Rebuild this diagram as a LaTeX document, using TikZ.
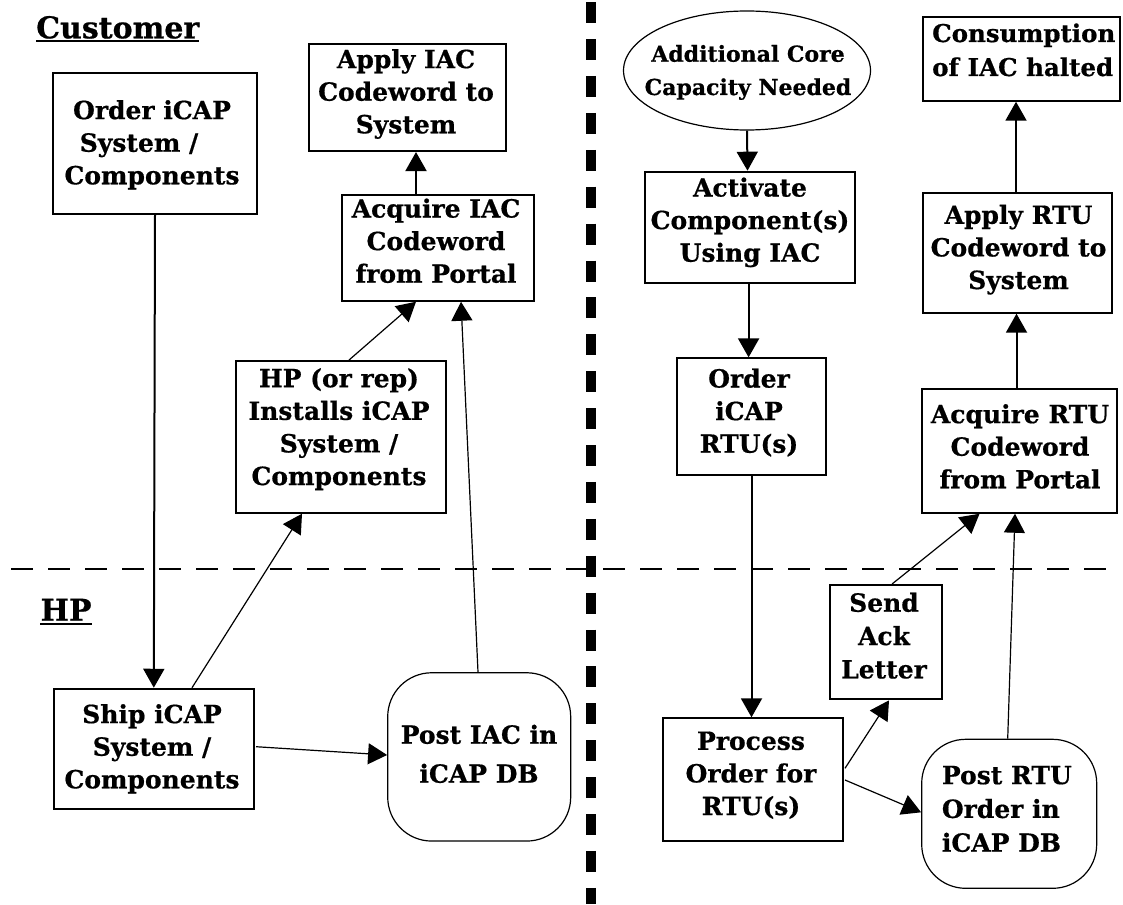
\documentclass[tikz,border=0pt]{standalone}
\usepackage{fontspec}
\setmainfont{DejaVu Serif}[BoldFeatures={FakeBold=0.6}]
\usetikzlibrary{arrows.meta,calc,shapes.geometric}
\newcommand\bxfont{\fontsize{25}{32.6}\selectfont\bfseries}
\newcommand\elfont{\fontsize{22}{33.3}\selectfont\bfseries}
\newcommand\hdfont{\fontsize{30}{36}\selectfont\bfseries}
\tikzset{
  box/.style={draw, line width=2pt, inner sep=0pt},
  rbox/.style={draw, line width=1.2pt, inner sep=0pt, rounded corners=44pt},
  txt/.style={inner sep=0pt, anchor=base, align=center, font=\bxfont},
  ltxt/.style={inner sep=0pt, anchor=base west, align=left, font=\bxfont},
  head/.style={inner sep=0pt, anchor=base west, font=\hdfont},
  arr/.style={line width=2pt, -{Triangle[length=19pt,width=21pt]}},
  tarr/.style={line width=1.2pt, -{Triangle[length=19pt,width=21pt]}},
  uline/.style={line width=2pt},
}
\begin{document}
\begin{tikzpicture}[x=1pt,y=-1pt]
\useasboundingbox (0,0) rectangle (1123,904);
% swimlane separators
\draw[line width=2pt, dash pattern=on 22pt off 15pt] (11,568.7) -- (1118,568.7);
\draw[line width=10.7pt, dash pattern=on 21pt off 15.9pt] (591,2.2) -- (591,904);
% headings
\node[head] (cust) at (36,38.3) {Customer};
\draw[uline] ($(cust.base west)+(0,3)$) -- ($(cust.base east)+(0,3)$);
\node[head] (hp) at (40.4,620.7) {HP};
\draw[uline] ($(hp.base west)+(0,3)$) -- ($(hp.base east)+(0,3)$);
% left side boxes (text nodes anchored at the baseline of their last line)
\node[box, minimum width=204pt, minimum height=141pt] (order) at (155,143.5) {};
\node[txt] (order-t) at (152,184.3) {Order iCAP\\System /\rule{26pt}{0pt}\\Components};
\node[box, minimum width=197pt, minimum height=106.7pt] (applyiac) at (407.5,97.7) {};
\node[txt] (applyiac-t) at (406,133.3) {Apply IAC\\Codeword to\\System};
\node[box, minimum width=192pt, minimum height=105.7pt] (acqiac) at (438,247.9) {};
\node[txt] (acqiac-t) at (436,282.7) {Acquire IAC\\Codeword\\from Portal};
\node[box, minimum width=210pt, minimum height=151.7pt] (installs) at (341,436.9) {};
\node[txt] (installs-t) at (339,485) {HP (or rep)\\Installs iCAP\\System /\\Components};
\node[box, minimum width=200.4pt, minimum height=120.3pt] (ship) at (153.8,748.9) {};
\node[txt] (ship-t) at (152,788.3) {Ship iCAP\\System /\\Components};
\node[rbox, minimum width=183pt, minimum height=168.3pt] (postiac) at (479.2,756.9) {};
\node[txt, font=\fontsize{25}{39}\selectfont\bfseries] (postiac-t) at (479,782.7) {Post IAC in\\iCAP DB};
% right side boxes
\node[ellipse, draw, line width=1.2pt, inner sep=0pt, minimum width=247pt, minimum height=119pt] (addl) at (747,70.5) {};
\node[txt, font=\elfont] (addl-t) at (748,95) {Additional Core\\Capacity Needed};
\node[box, minimum width=210pt, minimum height=111pt] (activate) at (750,227.2) {};
\node[txt] (activate-t) at (750,261.7) {Activate\\Component(s)\\Using IAC};
\node[box, minimum width=149pt, minimum height=116.7pt] (ordrtu) at (751.5,416.7) {};
\node[txt] (ordrtu-t) at (749,452.7) {Order\\iCAP\\RTU(s)};
\node[box, minimum width=180pt, minimum height=122.4pt] (process) at (753,779.5) {};
\node[txt] (process-t) at (751,815) {Process\\Order for\\RTU(s)};
\node[box, minimum width=111.7pt, minimum height=114.3pt] (sendack) at (885.8,642.2) {};
\node[txt, font=\fontsize{25}{33.3}\selectfont\bfseries] (sendack-t) at (884,678.3) {Send\\Ack\\Letter};
\node[rbox, minimum width=175pt, minimum height=149pt] (postrtu) at (1009.2,813.8) {};
\node[ltxt, font=\fontsize{25}{33.8}\selectfont\bfseries] (postrtu-t) at (941.7,851.7) {Post RTU\\Order in\\iCAP DB};
\node[box, minimum width=195pt, minimum height=123.7pt] (acqrtu) at (1019.5,450.9) {};
\node[txt] (acqrtu-t) at (1020,488.3) {Acquire RTU\\Codeword\\from Portal};
\node[box, minimum width=189pt, minimum height=120pt] (applyrtu) at (1017.8,252.7) {};
\node[txt] (applyrtu-t) at (1018.5,289) {Apply RTU\\Codeword to\\System};
\node[box, minimum width=197pt, minimum height=83.7pt] (consump) at (1021.5,58.9) {};
\node[ltxt, font=\fontsize{24.5}{34}\selectfont\bfseries] (consump-t) at (932,76) {Consumption\\of IAC halted};
% connectors, left
\draw[arr] (order.south) -- (ship.north);
\draw[tarr] ($(ship.north)+(38.2,0)$) -- ($(installs.south)+(-39,0)$);
\draw[tarr] ($(ship.east)+(1,-2.2)$) -- ($(postiac.west)+(0,-1.9)$);
\draw[tarr] ($(installs.north)+(8,0)$) -- ($(acqiac.south)+(-22,0)$);
\draw[tarr] ($(postiac.north)+(-1.2,0)$) -- ($(acqiac.south)+(23,0)$);
\draw[arr] ($(acqiac.north)+(-22,0)$) -- ($(applyiac.south)+(8.5,0)$);
% connectors, right
\draw[arr] (addl.south) -- ($(activate.north)+(-2.5,0)$);
\draw[arr] ($(activate.south)+(-1.4,0)$) -- ($(ordrtu.north)+(-2.9,0)$);
\draw[arr] (ordrtu.south) -- ($(process.north)+(-1.5,0)$);
\draw[tarr] ($(process.east)+(1,-11.2)$) -- ($(sendack.south)+(3.2,0)$);
\draw[tarr] ($(process.east)+(1,0.5)$) -- ($(postrtu.west)+(0,-1.5)$);
\draw[tarr] ($(sendack.north)+(6.2,0)$) -- ($(acqrtu.south)+(-40,0)$);
\draw[tarr] ($(postrtu.north)+(-1.5,0)$) -- ($(acqrtu.south)+(-4.5,0)$);
\draw[arr] ($(acqrtu.north)+(-3,0)$) -- ($(applyrtu.south)+(-1.3,0)$);
\draw[arr] ($(applyrtu.north)+(-1.8,0)$) -- ($(consump.south)+(-5.5,0)$);
\end{tikzpicture}
\end{document}
